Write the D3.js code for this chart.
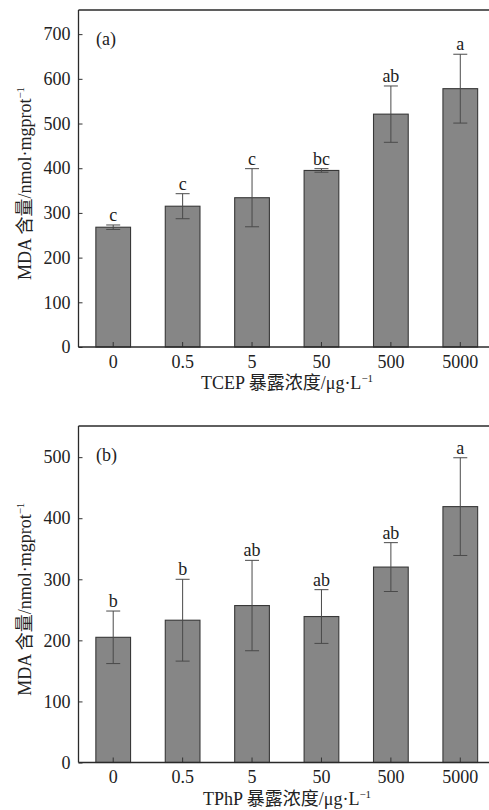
<!DOCTYPE html>
<html>
<head>
<meta charset="utf-8">
<script src="https://cdn.jsdelivr.net/npm/d3@7"></script>
<style>
body { margin:0; background:#fff; }
text { font-family: "Liberation Serif", "Noto Sans CJK SC", serif; fill:#222; }
</style>
</head>
<body>
<div id="chart"></div>
<script>
var width = 489;
var height = 810;

var doses = ["0", "0.5", "5", "50", "500", "5000"];

// panel (a) TCEP
var tcepMean = [268, 315, 334, 395, 521, 578];
var tcepErr  = [5, 28, 65, 4, 63, 77];
var tcepSig  = ["c", "c", "c", "bc", "ab", "a"];
var tcepTicks = [0, 100, 200, 300, 400, 500, 600, 700];

// panel (b) TPhP
var tphpMean = [205, 233, 257, 239, 320, 419];
var tphpErr  = [43, 67, 74, 44, 40, 80];
var tphpSig  = ["b", "b", "ab", "ab", "ab", "a"];
var tphpTicks = [0, 100, 200, 300, 400, 500];

var fs = "18px";

var svg = d3.select("#chart").append("svg")
	.attr("width", width)
	.attr("height", height);

function panel(opt) {
	var x = d3.scaleBand().domain(doses).range([78.5, 495])
		.paddingInner(0.5).paddingOuter(0.25);
	var y = d3.scaleLinear().domain([0, opt.ymax]).range([opt.bottom, opt.top]);
	var g = svg.append("g");

	// bars
	g.selectAll("rect.bar")
		.data(opt.mean)
		.enter().append("rect")
		.attr("class", "bar")
		.attr("x", function(d, i) { return x(doses[i]); })
		.attr("y", function(d) { return y(d); })
		.attr("width", x.bandwidth())
		.attr("height", function(d) { return y(0) - y(d); })
		.attr("fill", "#868686")
		.attr("stroke", "#383838")
		.attr("stroke-width", 1.1);

	// error bars
	var cx = function(i) { return x(doses[i]) + x.bandwidth() / 2; };
	var eb = g.selectAll("g.err")
		.data(opt.mean)
		.enter().append("g")
		.attr("class", "err")
		.attr("stroke", "#4a4a4a")
		.attr("stroke-width", 1);
	eb.append("line")
		.attr("x1", function(d, i) { return cx(i); })
		.attr("x2", function(d, i) { return cx(i); })
		.attr("y1", function(d, i) { return y(d + opt.err[i]); })
		.attr("y2", function(d, i) { return y(d - opt.err[i]); });
	eb.append("line")
		.attr("x1", function(d, i) { return cx(i) - 7; })
		.attr("x2", function(d, i) { return cx(i) + 7; })
		.attr("y1", function(d, i) { return y(d + opt.err[i]); })
		.attr("y2", function(d, i) { return y(d + opt.err[i]); });
	eb.append("line")
		.attr("x1", function(d, i) { return cx(i) - 7; })
		.attr("x2", function(d, i) { return cx(i) + 7; })
		.attr("y1", function(d, i) { return y(d - opt.err[i]); })
		.attr("y2", function(d, i) { return y(d - opt.err[i]); });

	// significance letters
	g.selectAll("text.sig")
		.data(opt.sig)
		.enter().append("text")
		.attr("class", "sig")
		.attr("x", function(d, i) { return cx(i); })
		.attr("y", function(d, i) { return y(opt.mean[i] + opt.err[i]) - 4; })
		.attr("text-anchor", "middle")
		.style("font-size", fs)
		.text(function(d) { return d; });

	// axes
	var xAxis = d3.axisBottom(x).tickSizeInner(-5).tickSizeOuter(0).tickPadding(8);
	var yAxis = d3.axisLeft(y).tickValues(opt.ticks).tickSizeInner(-4).tickSizeOuter(0).tickPadding(8);

	var gx = g.append("g")
		.attr("transform", "translate(0," + opt.bottom + ")")
		.call(xAxis);
	var gy = g.append("g")
		.attr("transform", "translate(78.5,0)")
		.call(yAxis);
	[gx, gy].forEach(function(a) {
		a.select(".domain").remove();
		a.selectAll("line").attr("stroke", "#333");
		a.selectAll("text").style("font-size", fs)
			.style("font-family", '"Liberation Serif", serif').attr("fill", "#222");
	});

	// frame: left, bottom, top
	g.append("line").attr("x1", 78.5).attr("x2", 78.5).attr("y1", opt.top).attr("y2", opt.bottom)
		.attr("stroke", "#2a2a2a").attr("stroke-width", 1.3);
	g.append("line").attr("x1", 78.5).attr("x2", width).attr("y1", opt.bottom).attr("y2", opt.bottom)
		.attr("stroke", "#2a2a2a").attr("stroke-width", 1.3);
	g.append("line").attr("x1", 78.5).attr("x2", width).attr("y1", opt.top).attr("y2", opt.top)
		.attr("stroke", "#2a2a2a").attr("stroke-width", 1.3);

	// panel label
	g.append("text")
		.attr("x", 96)
		.attr("y", opt.top + 35)
		.style("font-size", fs)
		.text(opt.label);

	// x title
	var xt = g.append("text")
		.attr("x", 287)
		.attr("y", opt.bottom + 42)
		.attr("text-anchor", "middle")
		.style("font-size", fs);
	xt.append("tspan").text(opt.xtitle + "/μg·L");
	xt.append("tspan").attr("dy", -7).style("font-size", "11px").text("−1");

	// y title
	var yt = g.append("text")
		.attr("transform", "translate(31," + ((opt.top + opt.bottom) / 2 + 5) + ") rotate(-90)")
		.attr("text-anchor", "middle")
		.style("font-size", fs);
	yt.append("tspan").text("MDA 含量/nmol·mgprot");
	yt.append("tspan").attr("dy", -7).style("font-size", "11px").text("−1");
}

panel({ top: 10, bottom: 347, ymax: 754, ticks: tcepTicks, mean: tcepMean, err: tcepErr,
	sig: tcepSig, label: "(a)", xtitle: "TCEP 暴露浓度" });
panel({ top: 426, bottom: 762.5, ymax: 551, ticks: tphpTicks, mean: tphpMean, err: tphpErr,
	sig: tphpSig, label: "(b)", xtitle: "TPhP 暴露浓度" });
</script>
</body>
</html>
